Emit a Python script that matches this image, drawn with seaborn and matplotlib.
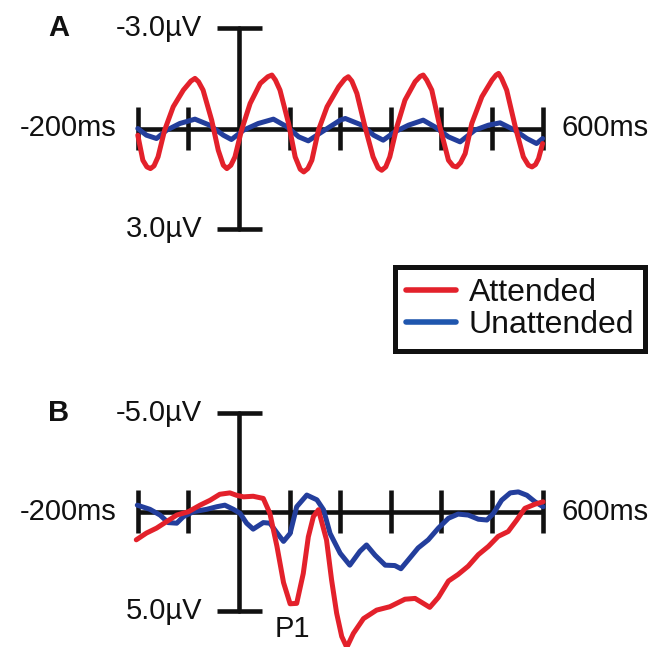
import pandas as pd
import seaborn as sns
import matplotlib.pyplot as plt

# values (time in ms, amplitude in microvolts, negative up)
a_att_ms = [-200, -190, -182, -175, -168, -160, -147, -130, -110, -95, -87, -80, -71, -54, -41, -31, -24, -16,
            -8, 5, 22, 42, 57, 65, 72, 81, 98, 111, 121, 128, 136, 144, 157, 174, 197, 209, 216, 223, 233,
            249, 265, 275, 282, 290, 298, 312, 328, 348, 358, 364, 371, 381, 397, 414, 423, 430, 438, 447,
            460, 480, 500, 508, 513, 519, 529, 546, 562, 572, 579, 586, 592, 600]
a_att_uv = [0.2, 0.95, 1.15, 1.2, 1.12, 0.85, 0.05, -0.65, -1.15, -1.42, -1.5, -1.4, -1.15, -0.25, 0.65, 1.1,
            1.2, 1.1, 0.85, 0.05, -0.75, -1.35, -1.55, -1.6, -1.45, -1.15, -0.15, 0.85, 1.22, 1.3, 1.2,
            0.95, 0.05, -0.65, -1.25, -1.48, -1.55, -1.42, -1.05, -0.05, 0.85, 1.18, 1.25, 1.15, 0.85,
            -0.05, -0.85, -1.4, -1.56, -1.6, -1.45, -1.15, -0.05, 0.95, 1.12, 1.15, 1.02, 0.75, -0.15,
            -0.95, -1.45, -1.6, -1.65, -1.5, -1.15, -0.05, 0.85, 1.1, 1.15, 1.08, 0.9, 0.45]

a_una_ms = [-200, -183, -163, -143, -117, -87, -58, -31, -15, 9, 38, 68, 95, 118, 137, 164, 200, 210, 243,
            266, 285, 308, 335, 364, 387, 414, 437, 466, 493, 516, 545, 569, 588, 600]
a_una_uv = [0.0, 0.2, 0.3, 0.05, -0.15, -0.28, -0.1, 0.2, 0.33, 0.05, -0.15, -0.28, -0.05, 0.25, 0.37, 0.1,
            -0.25, -0.3, -0.1, 0.2, 0.35, 0.1, -0.1, -0.25, -0.05, 0.25, 0.4, 0.05, -0.1, -0.17, 0.05, 0.3,
            0.45, 0.3]

b_att_ms = [-203, -183, -163, -143, -123, -100, -77, -57, -38, -18, -5, 9, 28, 48, 61, 75, 88, 101, 114,
            127, 137, 147, 157, 173, 183, 193, 203, 213, 226, 246, 272, 298, 328, 348, 361, 377, 394, 414,
            433, 453, 473, 493, 512, 532, 549, 565, 585, 601]
b_att_uv = [1.42, 1.08, 0.83, 0.5, 0.17, 0.0, -0.33, -0.58, -0.88, -0.95, -0.83, -0.75, -0.78, -0.67, 0.08,
            1.75, 3.58, 4.65, 4.63, 3.12, 1.27, 0.25, -0.1, 1.43, 3.45, 5.13, 6.3, 6.85, 6.15, 5.4, 4.97,
            4.8, 4.42, 4.38, 4.58, 4.83, 4.33, 3.5, 3.17, 2.75, 2.17, 1.75, 1.25, 1.0, 0.42, -0.17, -0.38,
            -0.5]

b_una_ms = [-201, -176, -156, -140, -123, -110, -90, -64, -44, -28, -11, 2, 15, 28, 48, 61, 78, 88, 101,
            114, 134, 154, 167, 180, 200, 219, 239, 252, 269, 289, 308, 320, 335, 354, 374, 394, 414, 433,
            453, 473, 490, 503, 519, 536, 552, 569, 585, 601]
b_una_uv = [-0.33, -0.12, 0.17, 0.55, 0.58, 0.25, 0.0, -0.12, -0.25, -0.33, -0.12, 0.08, 0.58, 0.88, 0.55,
            0.58, 1.17, 1.5, 1.1, -0.25, -0.84, -0.6, -0.1, 1.1, 2.1, 2.7, 2.0, 1.68, 2.2, 2.7, 2.72, 2.88,
            2.42, 1.83, 1.42, 0.83, 0.33, 0.12, 0.17, 0.38, 0.42, 0.08, -0.58, -0.95, -1.0, -0.83, -0.5,
            -0.25]

tick_ms = [-200, -100, 100, 200, 300, 400, 500, 600]
conditions = ["Attended", "Unattended"]
colors = {"Attended": "#e3212b", "Unattended": "#233e9c"}


def make_df(att_ms, att_uv, una_ms, una_uv):
    d1 = pd.DataFrame({"Time": att_ms, "Amplitude": att_uv, "Condition": "Attended"})
    d2 = pd.DataFrame({"Time": una_ms, "Amplitude": una_uv, "Condition": "Unattended"})
    return pd.concat([d2, d1], ignore_index=True)


sns.set_style("white")
plt.rcParams["font.family"] = ["Liberation Sans", "DejaVu Sans"]
plt.rcParams["text.color"] = "#111111"

W, H = 670, 647
fig = plt.figure(figsize=(W / 100, H / 100), dpi=100)
px_per_ms = 0.506
x0 = 239
xlim = (-x0 / px_per_ms, (W - x0) / px_per_ms)

# panel A occupies rows 0..260, panel B rows 390..647
axA = fig.add_axes([0, 1 - 260 / H, 1, 260 / H])
axB = fig.add_axes([0, 0, 1, 257 / H])

panels = [
    (axA, make_df(a_att_ms, a_att_uv, a_una_ms, a_una_uv), 3.0, 128.5, 33.4, 0, 260, 0.65, "A"),
    (axB, make_df(b_att_ms, b_att_uv, b_una_ms, b_una_uv), 5.0, 511.7, 19.8, 390, 647, 1.08, "B"),
]

for ax, df, vmax, y0, px_per_uv, top, bottom, tick_h, letter in panels:
    ax.set_xlim(*xlim)
    ax.set_ylim((bottom - y0) / px_per_uv, (top - y0) / px_per_uv)
    ax.axis("off")

    # hand-drawn style axes
    ax.plot([-200, 600], [0, 0], color="#111111", lw=3.3, zorder=1, solid_capstyle="butt")
    ax.vlines(tick_ms, -tick_h, tick_h, color="#111111", lw=3.3, zorder=1)
    ax.plot([0, 0], [-vmax, vmax], color="#111111", lw=3.3, zorder=1)
    ax.hlines([-vmax, vmax], -44, 45, color="#111111", lw=3.3, zorder=1)

    sns.lineplot(data=df, x="Time", y="Amplitude", hue="Condition", hue_order=["Unattended", "Attended"],
                 palette=colors, estimator=None, sort=False, lw=3.6, ax=ax, zorder=3,
                 legend=(letter == "A"))

    fs = 21
    ax.text(-242, 0, "-200ms", ha="right", va="center", fontsize=fs)
    ax.text(638, 0, "600ms", ha="left", va="center", fontsize=fs)
    ax.text(-73, -vmax, "-%.1fµV" % vmax, ha="right", va="center", fontsize=fs)
    ax.text(-73, vmax, "%.1fµV" % vmax, ha="right", va="center", fontsize=fs)
    ax.text(-356, -vmax, letter, ha="center", va="center", fontsize=21, fontweight="bold")

axB.text(106, 5.9, "P1", ha="center", va="center", fontsize=21)

leg = axA.get_legend()
handles = {t.get_text(): h for t, h in zip(leg.get_texts(), leg.legend_handles)}
leg.remove()
hs = [handles[c] for c in conditions]
for h in hs:
    h.set_linewidth(4)
hs[1].set_color("#1f56ae")
fl = fig.legend(hs, conditions, loc="upper left", bbox_to_anchor=(395 / W, 1 - 267 / H),
                borderaxespad=0, fontsize=23, frameon=True, fancybox=False, framealpha=1,
                edgecolor="#111111", handlelength=1.55, handletextpad=0.4, borderpad=0.35,
                labelspacing=0.05)
fl.get_frame().set_linewidth(3.6)

plt.savefig("out.png", dpi=100)
